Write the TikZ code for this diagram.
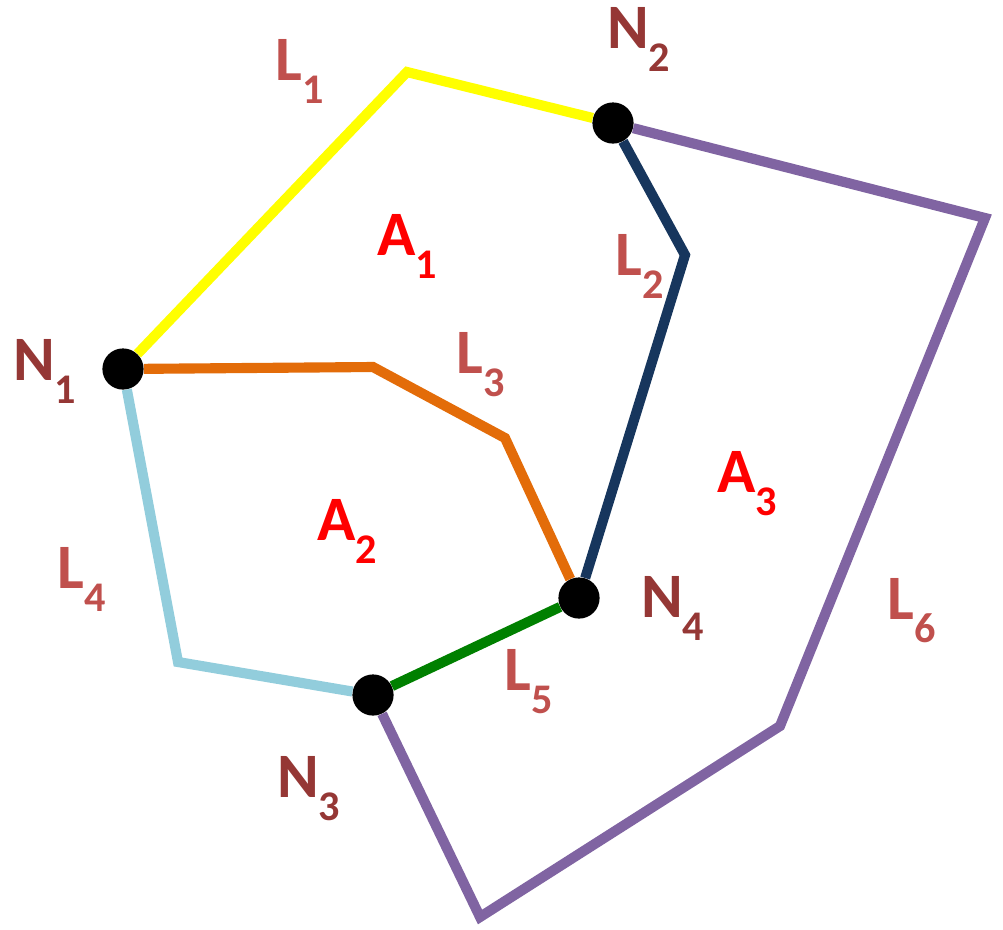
\documentclass[tikz,border=0pt]{standalone}
\usepackage{fontspec}
\setmainfont{Carlito}
\usetikzlibrary{positioning, calc}
\definecolor{lblred}{HTML}{C0504D}
\definecolor{nodered}{HTML}{953735}
\definecolor{areared}{HTML}{FF0000}
\definecolor{lyellow}{HTML}{FFFF00}
\definecolor{lorange}{HTML}{E36C09}
\definecolor{lnavy}{HTML}{17365D}
\definecolor{lsky}{HTML}{92CDDC}
\definecolor{lgreen}{HTML}{008000}
\definecolor{lpurple}{HTML}{8064A2}

\newcommand{\sublbl}[2]{#1\raisebox{-16.4pt}{\fontsize{30}{30}\selectfont #2}}

\tikzset{
  junction/.style={circle, fill=black, minimum size=1.03cm, inner sep=0pt},
  link/.style={line width=7.2pt},
  tag/.style={anchor=base west, inner sep=0pt, font=\fontsize{45}{45}\selectfont\bfseries}
}

\begin{document}
\begin{tikzpicture}[x=0.025cm, y=-0.025cm]

\useasboundingbox (0,0) rectangle (1003,929);

% Junctions
\node[junction] (N1) at (123,369) {};
\node[junction] (N2) at (613,123) {};
\node[junction] (N3) at (373,695) {};
\node[junction] (N4) at (579,598) {};

% Bends of the links
\coordinate (b1) at (407,72);
\coordinate (b2) at (685,255);
\coordinate (b3a) at (373,367);
\coordinate (b3b) at (505,438);
\coordinate (b4) at (178,662);
\coordinate (b6a) at (985,218);
\coordinate (b6b) at (780,726);
\coordinate (b6c) at (480,917);

% Links
\draw[link, lyellow] (N1) -- (b1) -- (N2);
\draw[link, lnavy] (N2) -- (b2) -- (N4);
\draw[link, lorange] (N1) -- (b3a) -- (b3b) -- (N4);
\draw[link, lsky] (N1) -- (b4) -- (N3);
\draw[link, lgreen] (N3) -- (N4);
\draw[link, lpurple] (N2) -- (b6a) -- (b6b) -- (b6c) -- (N3);

% Link labels
\node[tag, text=lblred] (tL1) at (275,80) {\sublbl{L}{1}};
\node[tag, text=lblred] (tL2) at (615,275) {\sublbl{L}{2}};
\node[tag, text=lblred] (tL3) at (456,373) {\sublbl{L}{3}};
\node[tag, text=lblred] (tL4) at (57,588) {\sublbl{L}{4}};
\node[tag, text=lblred] (tL5) at (504,690) {\sublbl{L}{5}};
\node[tag, text=lblred] (tL6) at (887,619) {\sublbl{L}{6}};

% Junction labels
\node[tag, text=nodered] (tN1) at (13,380) {\sublbl{N}{1}};
\node[tag, text=nodered] (tN2) at (607,48) {\sublbl{N}{2}};
\node[tag, text=nodered] (tN3) at (277,797) {\sublbl{N}{3}};
\node[tag, text=nodered] (tN4) at (641,617) {\sublbl{N}{4}};

% Area labels
\node[tag, text=areared] (tA1) at (377,255) {\sublbl{A}{1}};
\node[tag, text=areared] (tA2) at (317,540) {\sublbl{A}{2}};
\node[tag, text=areared] (tA3) at (717,492) {\sublbl{A}{3}};

\end{tikzpicture}
\end{document}
